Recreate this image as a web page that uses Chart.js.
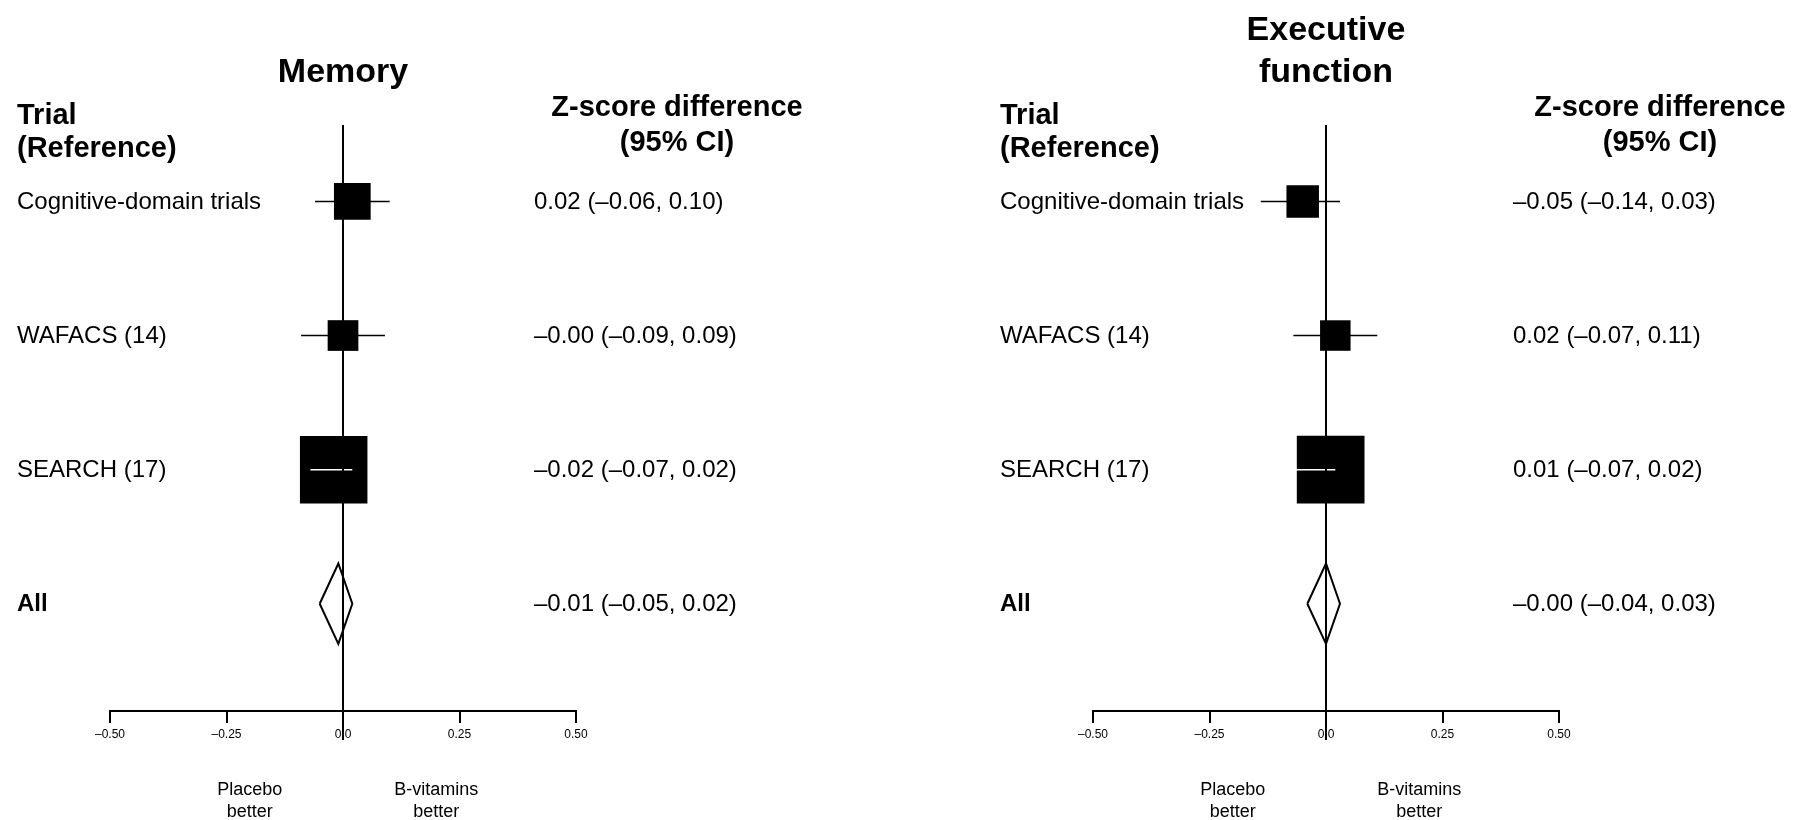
<!DOCTYPE html>
<html>
<head>
<meta charset="utf-8">
<title>B-vitamins and cognitive function: forest plots</title>
<script src="https://cdn.jsdelivr.net/npm/chart.js@4.4.1/dist/chart.umd.min.js"></script>
<style>
  html, body { margin: 0; padding: 0; background: #fff; }
  #wrap { position: relative; width: 1793px; height: 820px; overflow: hidden; background: #fff; }
  #wrap canvas { position: absolute; top: 0; }
</style>
</head>
<body>
<div id="wrap">
  <canvas id="memory" width="983" height="820" style="left:0"></canvas>
  <canvas id="executive" width="810" height="820" style="left:983px"></canvas>
</div>
<script>
// Rows, top to bottom; the last row is the pooled estimate.
const trials = ['Cognitive-domain trials', 'WAFACS (14)', 'SEARCH (17)', 'All'];

// Memory: z-score difference with 95% CI
const memoryEst  = [0.02, -0.00, -0.02, -0.01];
const memoryLow  = [-0.06, -0.09, -0.07, -0.05];
const memoryHigh = [0.10, 0.09, 0.02, 0.02];

// Executive function: z-score difference with 95% CI
const execEst  = [-0.05, 0.02, 0.01, -0.00];
const execLow  = [-0.14, -0.07, -0.07, -0.04];
const execHigh = [0.03, 0.11, 0.02, 0.03];

const xTickLabels = ['–0.50', '–0.25', '0.0', '0.25', '0.50'];
const favourLabels = [['Placebo', 'better'], ['B-vitamins', 'better']];

// ---- styling / layout ----
const FONT = "'Liberation Sans', Arial, Helvetica, sans-serif";
const AXIS_LEFT = 110;      // pixel of x = -0.5 inside each canvas
const AXIS_RIGHT = 576;     // pixel of x = +0.5
const PLOT_TOP = 125;       // top of the reference line
const AXIS_Y = 711;         // pixel row of the x axis
const X_AXIS_H = 30;
const CANVAS_H = 820;
const DIAMOND_HALF = 0.3;   // half height of the pooled diamond, in rows
const FAVOUR_AT = 0.2;      // x value where the "better" captions are centred
const TEXT_NUDGE = 0.5;     // optical centring of body text on its row

// box side (px) per trial row
const memoryBox = [36.7, 30.7, 67.5];
const execBox   = [32.5, 30.5, 67.7];

function fmt(v) {
  const neg = v < 0 || Object.is(v, -0);
  return (neg ? '–' : '') + Math.abs(v).toFixed(2);
}

// CI line is drawn white when it is narrower than its box
function ciInsideBox(chart, lo, hi, side) {
  const sx = chart.scales && chart.scales.x;
  if (!sx) return false;
  const w = Math.abs(sx.getPixelForValue(hi) - sx.getPixelForValue(lo));
  return isFinite(w) && w <= side;
}

const zeroLine = {
  id: 'zeroLine',
  afterDatasetsDraw(chart) {
    const { ctx, chartArea, scales } = chart;
    const px = scales.x.getPixelForValue(0);
    ctx.save();
    ctx.strokeStyle = '#000';
    ctx.lineWidth = 2;
    ctx.beginPath();
    ctx.moveTo(px, chartArea.top);
    ctx.lineTo(px, chartArea.bottom + 29);
    ctx.stroke();
    ctx.restore();
  }
};

function panelText(titleLines, est, low, high, valueX) {
  return {
    id: 'panelText',
    afterDraw(chart) {
      const { ctx, chartArea, scales } = chart;
      const pooled = est.length - 1;
      ctx.save();
      ctx.fillStyle = '#000';
      ctx.textBaseline = 'middle';

      // panel title, bottom-aligned above the plot
      ctx.font = 'bold 34px ' + FONT;
      ctx.textAlign = 'center';
      const cx = (chartArea.left + chartArea.right) / 2;
      titleLines.forEach((t, k) => {
        ctx.fillText(t, cx, 73 - (titleLines.length - 1 - k) * 42);
      });

      // column headers
      ctx.font = 'bold 29px ' + FONT;
      ctx.textAlign = 'left';
      ctx.fillText('Trial', 17, 116);
      ctx.fillText('(Reference)', 17, 149);
      ctx.textAlign = 'center';
      ctx.fillText('Z-score difference', 677, 108);
      ctx.fillText('(95% CI)', 677, 143);

      // row labels and estimates
      ctx.textAlign = 'left';
      trials.forEach((name, i) => {
        const y = scales.y.getPixelForValue(i) + TEXT_NUDGE;
        ctx.font = (i === pooled ? 'bold ' : '') + '24px ' + FONT;
        ctx.fillText(name, 17, y);
        ctx.font = '24px ' + FONT;
        ctx.fillText(fmt(est[i]) + ' (' + fmt(low[i]) + ', ' + fmt(high[i]) + ')', valueX, y);
      });

      // direction captions under the axis
      ctx.font = '18px ' + FONT;
      ctx.textAlign = 'center';
      favourLabels.forEach((lines, j) => {
        const x = scales.x.getPixelForValue(j === 0 ? -FAVOUR_AT : FAVOUR_AT);
        lines.forEach((l, k) => ctx.fillText(l, x, 790 + k * 22));
      });
      ctx.restore();
    }
  };
}

function buildPanel(canvasId, titleLines, est, low, high, boxSide, valueX) {
  const canvas = document.getElementById(canvasId);
  const W = canvas.width;
  const pooled = est.length - 1;
  const datasets = [];

  // confidence interval lines
  for (let i = 0; i < pooled; i++) {
    datasets.push({
      type: 'line',
      data: [{ x: low[i], y: i }, { x: high[i], y: i }],
      borderWidth: 1.5,
      borderColor: ctx => ciInsideBox(ctx.chart, low[i], high[i], boxSide[i]) ? '#fff' : '#000',
      pointRadius: 0,
      fill: false,
      order: 2
    });
  }

  // boxes at the point estimates
  datasets.push({
    type: 'scatter',
    data: est.slice(0, pooled).map((v, i) => ({ x: v, y: i })),
    pointStyle: 'rect',
    pointRadius: boxSide.map(s => s / (2 * Math.SQRT1_2)),
    pointBackgroundColor: '#000',
    pointBorderWidth: 0,
    order: 3
  });

  // pooled diamond
  datasets.push({
    type: 'line',
    data: [
      { x: low[pooled], y: pooled },
      { x: est[pooled], y: pooled - DIAMOND_HALF },
      { x: high[pooled], y: pooled },
      { x: est[pooled], y: pooled + DIAMOND_HALF },
      { x: low[pooled], y: pooled }
    ],
    borderColor: '#000',
    borderWidth: 2,
    borderJoinStyle: 'miter',
    pointRadius: 0,
    tension: 0,
    fill: false,
    order: 1
  });

  return new Chart(canvas, {
    type: 'scatter',
    data: { datasets },
    options: {
      responsive: false,
      animation: false,
      devicePixelRatio: 1,
      events: [],
      layout: {
        padding: {
          left: AXIS_LEFT,
          right: W - AXIS_RIGHT,
          top: PLOT_TOP,
          bottom: CANVAS_H - AXIS_Y - X_AXIS_H
        }
      },
      plugins: {
        legend: { display: false },
        tooltip: { enabled: false },
        title: { display: false }
      },
      scales: {
        x: {
          type: 'linear',
          position: 'bottom',
          min: -0.5,
          max: 0.5,
          ticks: {
            stepSize: 0.25,
            autoSkip: false,
            maxRotation: 0,
            padding: 4,
            color: '#000',
            font: { family: FONT, size: 12 },
            callback: (v, i) => xTickLabels[i]
          },
          grid: {
            display: true,
            drawOnChartArea: false,
            drawTicks: true,
            tickLength: 12,
            color: '#000',
            lineWidth: 2
          },
          border: { display: true, color: '#000', width: 2 },
          afterFit: s => { s.height = X_AXIS_H; }
        },
        y: {
          type: 'linear',
          reverse: true,
          min: -0.57,
          max: 3.8,
          display: false
        }
      }
    },
    plugins: [zeroLine, panelText(titleLines, est, low, high, valueX)]
  });
}

buildPanel('memory', ['Memory'], memoryEst, memoryLow, memoryHigh, memoryBox, 534);
buildPanel('executive', ['Executive', 'function'], execEst, execLow, execHigh, execBox, 530);
</script>
</body>
</html>
